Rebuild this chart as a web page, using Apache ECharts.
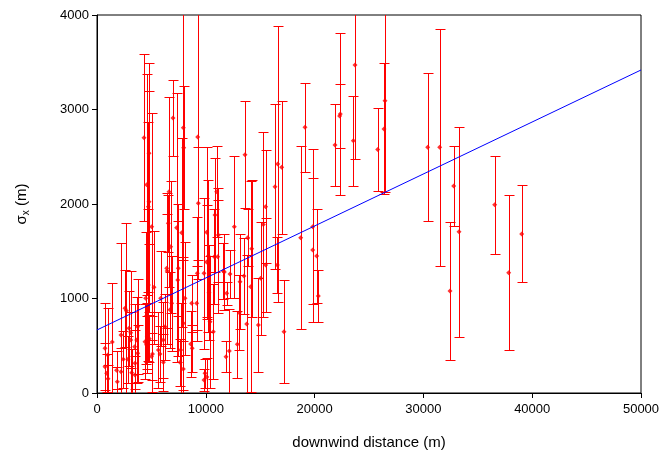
<!DOCTYPE html>
<html><head><meta charset="utf-8">
<script src="https://cdn.jsdelivr.net/npm/echarts@6/dist/echarts.min.js"></script>
<style>html,body{margin:0;padding:0;background:#fff}#c{width:665px;height:460px}</style>
</head><body><div id="c"></div>
<script>
// downwind distance (m)
var xs = [21875,22362,22300,23560,23713,25800,26379,26470,30395,31498,32785,32445,33272,36553,37840,39034,
16608,16976,16360,19118,18722,19825,19825,20190,20340,13603,12620,13850,14219,15285,15500,15500,17187,15046,14832,14127,13758,13143,13511,13081,12898,12163,11857,11918,12224,11612,11091,11000,10846,11149,16571,
10230,10781,10070,11700,10294,10386,10690,10100,10082,
4320,4780,4565,4780,6985,6618,7935,7966,9255,9313,7320,
735,980,890,1400,2206,1866,2206,2574,2700,2941,3097,3741,3100,3649,2420,2850,3493,3190,3493,3741,4476,4720,4412,4550,4620,4810,4720,735,1010,1800,3460,
5239,5024,5852,6557,6771,6403,6450,6863,6710,6250,6097,5790,5100,5010,7782,7475,7420,8088,7935,8701,9160,8609,8750,7690,9835,9221,9927,9835,7935,7630,6100,5640];
// sigma_x (m)
var ys = [2624,2952,2930,2670,3471,2578,2794,3093,2600,2600,2190,1079,1707,1993,1273,1683,
2423,2388,2183,2811,1644,1760,1513,1450,1026,2522,1760,1644,1527,1784,1971,1354,649,1213,719,1125,730,1178,1238,850,515,444,384,1055,1259,1291,1442,2130,1884,1672,1354,
1450,1442,1385,1280,1061,755,649,170,1700,
2702,2536,2204,2024,2910,2130,2808,2596,2709,2007,1750,
473,402,208,540,614,120,226,896,870,684,638,702,560,561,356,356,314,215,190,420,1002,1143,543,510,600,575,1971,278,150,240,490,
1118,1760,1002,1796,1548,1319,1290,949,880,702,561,413,413,385,1696,1319,1196,1002,737,949,949,518,473,455,1266,1266,208,138,255,325,325,455];
// error (m)
var errs = [430,857,335,475,1000,437,693,963,785,1256,428,726,1111,518,823,513,
1464,705,875,474,972,818,758,500,275,564,751,300,723,975,600,500,543,600,500,1117,730,500,400,400,358,450,164,120,250,300,600,480,600,500,300,
800,500,600,400,500,700,500,200,900,
882,960,1172,1170,400,1005,1400,653,1500,600,1420,
480,500,200,620,970,150,250,406,930,400,650,500,300,450,300,250,350,250,200,300,700,800,400,300,350,250,900,250,150,200,450,
600,1200,500,300,700,800,600,500,400,350,400,300,400,250,1000,500,800,600,700,300,400,350,250,500,800,600,150,120,300,250,300,400];
// regression line
var fitX = [0, 50000];
var fitY = [667, 3418];

var pts = [], bars = [];
for (var i = 0; i < xs.length; i++) { pts.push([xs[i], ys[i]]); bars.push([xs[i], ys[i], errs[i]]); }
var fit = [[fitX[0], fitY[0]], [fitX[1], fitY[1]]];

var chart = echarts.init(document.getElementById('c'), null, {renderer: 'canvas'});
var FONT = 'Liberation Sans, Arial, sans-serif';
function ls() { return {stroke: '#ff0000', fill: null, lineWidth: 1}; }
function renderErr(params, api) {
  var x = api.value(0), y = api.value(1), e = api.value(2);
  var t = api.coord([x, y + e]), b = api.coord([x, y - e]);
  var px = Math.round(t[0]) + 0.5, ty = Math.round(t[1]) + 0.5, by = Math.round(b[1]) + 0.5;
  var hw = 5;
  var cs = params.coordSys;
  return {type: 'group',
    clipPath: {type: 'rect', shape: {x: cs.x, y: cs.y, width: cs.width, height: cs.height}},
    children: [
    {type: 'line', shape: {x1: px, y1: ty, x2: px, y2: by}, style: ls()},
    {type: 'line', shape: {x1: px - hw, y1: ty, x2: px + hw, y2: ty}, style: ls()},
    {type: 'line', shape: {x1: px - hw, y1: by, x2: px + hw, y2: by}, style: ls()}
  ]};
}
function plain(v) { return String(v); }
chart.setOption({
  animation: false,
  backgroundColor: '#fff',
  grid: {left: 97, right: 24, top: 15, bottom: 67, show: true, borderColor: '#000', borderWidth: 1, backgroundColor: 'transparent'},
  xAxis: {type: 'value', min: 0, max: 50000, interval: 10000,
    name: 'downwind distance (m)', nameLocation: 'middle', nameGap: 42,
    nameTextStyle: {fontFamily: FONT, fontSize: 15, color: '#000'},
    axisLine: {lineStyle: {color: '#000', width: 1}}, axisTick: {inside: false, length: 5, lineStyle: {color: '#000'}},
    axisLabel: {fontFamily: FONT, fontSize: 13, color: '#000', margin: 10, formatter: plain},
    splitLine: {show: false}},
  yAxis: {type: 'value', min: 0, max: 4000, interval: 1000,
    name: '{a|σ}{b|x}{a| (m)}', nameLocation: 'middle', nameGap: 66,
    nameTextStyle: {fontFamily: FONT, fontSize: 15, color: '#000',
      rich: {a: {fontFamily: FONT, fontSize: 15, color: '#000'}, b: {fontFamily: FONT, fontSize: 10, color: '#000', verticalAlign: 'bottom', padding: [8,0,0,0]}}},
    axisLine: {lineStyle: {color: '#000', width: 1}}, axisTick: {inside: false, length: 5, lineStyle: {color: '#000'}},
    axisLabel: {fontFamily: FONT, fontSize: 13, color: '#000', margin: 8, formatter: plain},
    splitLine: {show: false}},
  series: [
    {type: 'custom', renderItem: renderErr, data: bars, z: 2, silent: true, itemStyle: {color: '#ff0000'}},
    {type: 'scatter', data: pts, symbol: 'diamond', symbolSize: 5, itemStyle: {color: '#ff0000'}, z: 3, silent: true},
    {type: 'line', data: fit, symbol: 'none', lineStyle: {color: '#0000ff', width: 1}, z: 4, silent: true}
  ]
});
</script></body></html>
